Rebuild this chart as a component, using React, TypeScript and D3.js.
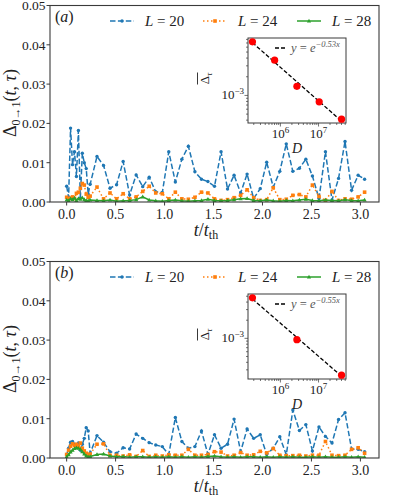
import React from 'react';
import * as d3 from 'd3';

// time grid (t / t_th), shared by both panels
const times = [
  0, 0.02, 0.04, 0.06, 0.08, 0.1, 0.12, 0.14, 0.16, 0.18, 0.2, 0.22, 0.24,
  0.31, 0.377, 0.443, 0.51, 0.577, 0.643, 0.71, 0.777, 0.843, 0.91, 0.977,
  1.043, 1.11, 1.177, 1.243, 1.31, 1.377, 1.443, 1.51, 1.577, 1.643, 1.71,
  1.777, 1.843, 1.91, 1.977, 2.043, 2.11, 2.177, 2.243, 2.31, 2.377, 2.443,
  2.51, 2.577, 2.643, 2.71, 2.777, 2.843, 2.91, 2.977, 3.043,
];

// panel (a)
const aL20 = [
  0.004, 0.0012, 0.0188, 0.0095, 0.0128, 0.0065, 0.0182, 0.001, 0.0124, 0.01, 0.0085, 0.002, 0.0045,
  0.0116, 0.0093, 0.0035, 0.0044, 0.0103, 0.0018, 0.0069, 0.0039, 0.0063, 0.0026,
  0.0024, 0.0128, 0.0051, 0.0109, 0.0142, 0.0077, 0.0058, 0.0052, 0.004, 0.0128,
  0.0033, 0.0068, 0.0023, 0.0071, 0.0009, 0.0034, 0.0101, 0.0038, 0.0078, 0.0148,
  0.0078, 0.0086, 0.0109, 0.0066, 0.0009, 0.0128, 0.0005, 0.006, 0.0154, 0.003,
  0.0068, 0.0058,
];
const aL24 = [
  0.0012, 0.0008, 0.001, 0.0013, 0.0009, 0.0022, 0.0025, 0.0035, 0.0047, 0.0043, 0.002, 0.0012, 0.0015,
  0.0038, 0.0008, 0.0023, 0.0008, 0.0021, 0.0008, 0.0013, 0.0027, 0.004, 0.0023,
  0.0021, 0.0008, 0.0025, 0.0008, 0.0007, 0.0012, 0.0025, 0.0023, 0.0008, 0.0004,
  0.0006, 0.0011, 0.0017, 0.0031, 0.0011, 0.0004, 0.0006, 0.0036, 0.0006, 0.0007,
  0.0017, 0.0019, 0.0013, 0.0043, 0.0014, 0.0004, 0.0027, 0.0004, 0.0008, 0.0007,
  0.0013, 0.0025,
];
const aL28 = [
  0.0005, 0.0003, 0.0008, 0.0006, 0.001, 0.0004, 0.0009, 0.0007, 0.0011, 0.0006, 0.0004, 0.0003, 0.0005,
  0.0004, 0.0003, 0.0005, 0.0002, 0.0003, 0.0004, 0.0006, 0.0013, 0.0005, 0.0003,
  0.0002, 0.0004, 0.0005, 0.0003, 0.0002, 0.0003, 0.0004, 0.0007, 0.0004, 0.0003,
  0.0004, 0.0006, 0.0008, 0.0009, 0.0004, 0.0003, 0.0005, 0.0003, 0.0002, 0.0004,
  0.0003, 0.0005, 0.0007, 0.0004, 0.0003, 0.0005, 0.0004, 0.0003, 0.0006, 0.0004,
  0.0003, 0.0005,
];

// panel (b)
const bL20 = [
  0.0008, 0.0025, 0.004, 0.0042, 0.0035, 0.003, 0.0038, 0.002, 0.0035, 0.005, 0.0077, 0.0069, 0.0012,
  0.0057, 0.004, 0.0016, 0.0012, 0.0026, 0.0023, 0.0061, 0.005, 0.0039, 0.0033,
  0.0029, 0.0009, 0.0103, 0.0042, 0.0025, 0.0029, 0.0069, 0.0009, 0.0059, 0.0025,
  0.0035, 0.0099, 0.0016, 0.0074, 0.005, 0.0059, 0.0009, 0.0025, 0.0054, 0.0008,
  0.0122, 0.007, 0.0085, 0.0018, 0.0079, 0.0055, 0.0038, 0.0098, 0.0115, 0.0023,
  0.0022, 0.0016,
];
const bL24 = [
  0.0009, 0.002, 0.003, 0.0036, 0.0032, 0.0035, 0.003, 0.0038, 0.0025, 0.0018, 0.0012, 0.0008, 0.001,
  0.0035, 0.0036, 0.0007, 0.0007, 0.0005, 0.0008, 0.0004, 0.0019, 0.0004, 0.0007,
  0.0005, 0.0008, 0.0007, 0.0007, 0.0022, 0.0007, 0.0007, 0.0009, 0.0016, 0.0015,
  0.0005, 0.0007, 0.0014, 0.0007, 0.0008, 0.0017, 0.0013, 0.0024, 0.0007, 0.0006,
  0.0006, 0.0007, 0.0005, 0.0007, 0.0007, 0.0042, 0.0007, 0.0006, 0.0007, 0.0022,
  0.0026, 0.0012,
];
const bL28 = [
  0.0003, 0.0008, 0.0015, 0.002, 0.0024, 0.0026, 0.0025, 0.0022, 0.0016, 0.001, 0.0005, 0.0003, 0.0004,
  0.0009, 0.001, 0.0005, 0.0003, 0.0004, 0.0002, 0.0003, 0.0003, 0.0002, 0.0003,
  0.0002, 0.0003, 0.0002, 0.0003, 0.0002, 0.0003, 0.0002, 0.0004, 0.0005, 0.0003,
  0.0002, 0.0003, 0.0002, 0.0003, 0.0003, 0.0002, 0.0003, 0.0002, 0.0003, 0.0002,
  0.0003, 0.0002, 0.0002, 0.0003, 0.0002, 0.0003, 0.0002, 0.0002, 0.0003, 0.0002,
  0.0003, 0.0002,
];

// insets: Hilbert-space dimension D vs time-averaged Delta
const insetDA = [184756, 705432, 2704156, 10400600, 40116600];
const insetVA = [0.0073, 0.0037, 0.0014, 0.00079, 0.000415];
const insetDB = [184756, 2704156, 40116600];
const insetVB = [0.0047, 0.00095, 0.000245];

const seriesLabels = ['20', '24', '28'];
const colors = ['#1f77b4', '#ff7f0e', '#2ca02c'];
const dashes = ['5.5,2.4', '1.5,2.5', null];
const yTicks = [0, 0.01, 0.02, 0.03, 0.04, 0.05];
const xTicks = [0, 0.5, 1, 1.5, 2, 2.5, 3];

const serif = 'Liberation Serif, Times New Roman, DejaVu Serif, serif';
const frame = '#3a3a3a';
const ink = '#222';

function Marker({ kind, x, y, color }: { kind: number; x: number; y: number; color: string }) {
  if (kind === 0) return <circle cx={x} cy={y} r={1.7} fill={color} />;
  if (kind === 1) return <rect x={x - 1.8} y={y - 1.8} width={3.6} height={3.6} fill={color} />;
  return <path d={`M${x},${y - 2.3}L${x + 2.1},${y + 1.5}L${x - 2.1},${y + 1.5}Z`} fill={color} />;
}

function Inset({ ds, vs, slope }: { ds: number[]; vs: number[]; slope: string }) {
  const left = 248, right = 346, top = 38, bottom = 123;
  const lx = ds.map(Math.log10), ly = vs.map(Math.log10);
  const mx = (d3.max(lx)! - d3.min(lx)!) * 0.05;
  const my = (d3.max(ly)! - d3.min(ly)!) * 0.05;
  const x = d3.scaleLog().domain([10 ** (d3.min(lx)! - mx), 10 ** (d3.max(lx)! + mx)]).range([left, right]);
  const y = d3.scaleLog().domain([10 ** (d3.min(ly)! - my), 10 ** (d3.max(ly)! + my)]).range([bottom, top]);
  // least squares fit in log-log
  const n = lx.length;
  const mX = d3.mean(lx)!, mY = d3.mean(ly)!;
  const b = d3.sum(lx.map((v, i) => (v - mX) * (ly[i] - mY))) / d3.sum(lx.map((v) => (v - mX) ** 2));
  const a = mY - b * mX;
  const fitLine = d3.line<number>()
    .x((d) => x(d))
    .y((d) => y(10 ** (a + b * Math.log10(d))));
  const xMinor = x.ticks().filter((t) => x(t) >= left && x(t) <= right);
  const yMinor = y.ticks().filter((t) => y(t) >= top && y(t) <= bottom);
  const isMajor = (t: number) => Math.abs(Math.log10(t) - Math.round(Math.log10(t))) < 1e-6;
  return (
    <g style={{ fontFamily: serif }}>
      <rect x={left} y={top} width={right - left} height={bottom - top} fill="white" stroke={frame} strokeWidth={1} />
      {xMinor.map((t, i) => (
        <line key={'xm' + i} x1={x(t)} x2={x(t)} y1={bottom} y2={bottom + (isMajor(t) ? 3.5 : 2)} stroke={frame} strokeWidth={0.7} />
      ))}
      {yMinor.map((t, i) => (
        <line key={'ym' + i} x1={left} x2={left - (isMajor(t) ? 3.5 : 2)} y1={y(t)} y2={y(t)} stroke={frame} strokeWidth={0.7} />
      ))}
      {xMinor.filter(isMajor).map((t, i) => (
        <text key={'xl' + i} x={x(t)} y={bottom + 15} textAnchor="middle" fontSize={13} fill={ink}>
          10<tspan dy={-5} fontSize={9}>{Math.round(Math.log10(t))}</tspan>
        </text>
      ))}
      {yMinor.filter(isMajor).map((t, i) => (
        <text key={'yl' + i} x={left - 4} y={y(t) + 4} textAnchor="end" fontSize={13} fill={ink}>
          10<tspan dy={-5} fontSize={9}>{'\u2212' + Math.abs(Math.round(Math.log10(t)))}</tspan>
        </text>
      ))}
      <path d={fitLine([ds[0], ds[n - 1]])!} fill="none" stroke="black" strokeWidth={1.3} strokeDasharray="4,2" />
      {ds.map((d, i) => (
        <circle key={i} cx={x(d)} cy={y(vs[i])} r={3.6} fill="red" />
      ))}
      <line x1={275} x2={285} y1={48} y2={48} stroke="black" strokeWidth={1.3} strokeDasharray="4,2" />
      <text x={291} y={51.5} fontSize={12.5} fill="#555">
        <tspan fontStyle="italic">y</tspan> = <tspan fontStyle="italic">e</tspan>
        <tspan dy={-4.5} fontSize={8.5} fontStyle="italic">{'\u2212' + slope + 'x'}</tspan>
      </text>
      <g transform={`translate(209,${(top + bottom) / 2 - 2}) rotate(-90)`}>
        <line x1={-6} x2={6} y1={-11.5} y2={-11.5} stroke={ink} strokeWidth={0.9} />
        <text x={0} y={0} textAnchor="middle" fontSize={13} fill={ink}>
          Δ<tspan dy={3} fontSize={9} fontStyle="italic">τ</tspan>
        </text>
      </g>
      <text x={297} y={bottom + 30} textAnchor="middle" fontStyle="italic" fontSize={14} fill={ink}>D</text>
    </g>
  );
}

function Panel({ dy, tag, series, ds, vs, slope }: { dy: number; tag: string; series: number[][]; ds: number[]; vs: number[]; slope: string }) {
  const left = 50, right = 379, top = 5.5, bottom = 202;
  const x = d3.scaleLinear().domain([-0.17, 3.19]).range([left, right]);
  const y = d3.scaleLinear().domain([0, 0.05]).range([bottom, top]);
  const line = d3.line<number>().x((_, i) => x(times[i])).y((d) => y(d));
  const legendX = [110, 203, 297];
  return (
    <g transform={`translate(0,${dy})`} style={{ fontFamily: serif }}>
      <defs>
        <clipPath id={'clip' + tag}>
          <rect x={left} y={top} width={right - left} height={bottom - top} />
        </clipPath>
      </defs>
      <g clipPath={`url(#clip${tag})`}>
        {series.map((s, k) => (
          <g key={k}>
            <path d={line(s)!} fill="none" stroke={colors[k]} strokeWidth={1.5} strokeDasharray={dashes[k] ?? undefined} />
            {s.map((v, i) => (
              <Marker key={i} kind={k} x={x(times[i])} y={y(v)} color={colors[k]} />
            ))}
          </g>
        ))}
      </g>
      <rect x={left} y={top} width={right - left} height={bottom - top} fill="none" stroke={frame} strokeWidth={1.1} />
      {yTicks.map((t) => (
        <g key={'y' + t}>
          <line x1={left} x2={left - 3.5} y1={y(t)} y2={y(t)} stroke={frame} />
          <text x={left - 4.5} y={y(t) + 4.8} textAnchor="end" fontSize={13.5} fill={ink}>{t.toFixed(2)}</text>
        </g>
      ))}
      {xTicks.map((t) => (
        <g key={'x' + t}>
          <line x1={x(t)} x2={x(t)} y1={bottom} y2={bottom + 3.5} stroke={frame} />
          <text x={x(t)} y={bottom + 16.5} textAnchor="middle" fontSize={14} fill={ink}>{t.toFixed(1)}</text>
        </g>
      ))}
      <text x={206} y={bottom + 33.5} textAnchor="middle" fontSize={18} fill={ink}>
        <tspan fontStyle="italic">t</tspan>/<tspan fontStyle="italic">t</tspan>
        <tspan dy={3.5} fontSize={12}>th</tspan>
      </text>
      <text transform={`translate(16,${103}) rotate(-90)`} textAnchor="middle" fontSize={18} fill={ink}>
        Δ<tspan dy={4} fontSize={12}>0→1</tspan>
        <tspan dy={-4}>(</tspan><tspan fontStyle="italic">t</tspan>, <tspan fontStyle="italic">τ</tspan>)
      </text>
      <text x={55} y={22} fontSize={16} fill={ink}>
        (<tspan fontStyle="italic">{tag}</tspan>)
      </text>
      {seriesLabels.map((lab, k) => (
        <g key={'lg' + k}>
          <line x1={legendX[k]} x2={legendX[k] + 24} y1={21} y2={21} stroke={colors[k]} strokeWidth={1.5} strokeDasharray={dashes[k] ?? undefined} />
          <Marker kind={k} x={legendX[k] + 12} y={21} color={colors[k]} />
          <text x={legendX[k] + 35} y={26} fontSize={15} fill={ink}>
            <tspan fontStyle="italic">L</tspan> = {lab}
          </text>
        </g>
      ))}
      <Inset ds={ds} vs={vs} slope={slope} />
    </g>
  );
}

export default function App() {
  return (
    <svg width={399} height={498} style={{ position: 'absolute', left: 0, top: 0, background: 'white' }}>
      <Panel dy={0} tag="a" series={[aL20, aL24, aL28]} ds={insetDA} vs={insetVA} slope="0.53" />
      <Panel dy={256} tag="b" series={[bL20, bL24, bL28]} ds={insetDB} vs={insetVB} slope="0.55" />
    </svg>
  );
}
